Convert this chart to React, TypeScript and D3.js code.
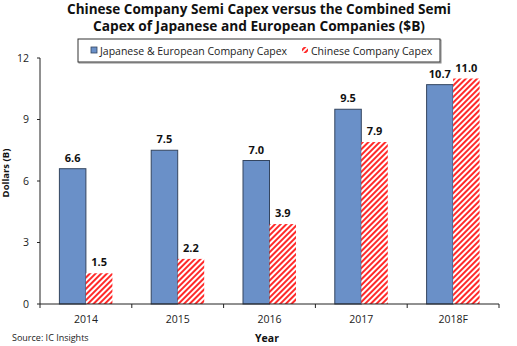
import React from "react";
import * as d3 from "d3";

const categories = ["2014", "2015", "2016", "2017", "2018F"];
const jeCapex = [6.6, 7.5, 7.0, 9.5, 10.7];
const cnCapex = [1.5, 2.2, 3.9, 7.9, 11.0];
const yTicks = [0, 3, 6, 9, 12];
const seriesNames = ["Japanese & European Company Capex", "Chinese Company Capex"];
const titleLines = [
  "Chinese Company Semi Capex versus the Combined Semi",
  "Capex of Japanese and European Companies ($B)",
];
const titleWidths = [384, 332];

const W = 517, H = 346;
const left = 40, right = 499, top = 58, bottom = 304;
const font = "'Open Sans', 'Liberation Sans', sans-serif";

export default function App() {
  const x = d3.scaleBand<string>().domain(categories).range([left, right]).paddingInner(0).paddingOuter(0);
  const y = d3.scaleLinear().domain([0, 12]).range([bottom, top]);
  const bw = 26.5;
  const blue = "#6a90c8";
  const blueStroke = "#34455f";
  const red = "#ff2a2a";

  return (
    <svg width={W} height={H} style={{ position: "absolute", left: 0, top: 0, background: "#fff" }} fontFamily={font}>
      <defs>
        <pattern id="hatch" patternUnits="userSpaceOnUse" width="4" height="4" patternTransform="rotate(45)">
          <rect width="4" height="4" fill="#fff" />
          <rect x="0" y="0" width="2" height="4" fill={red} />
        </pattern>
      </defs>
      <rect width={W} height={H} fill="#fff" />
      {titleLines.map((t, i) => (
        <text key={i} x={259} y={14 + i * 17} textAnchor="middle" fontSize={13.5} fontWeight="bold" fill="#111"
          textLength={titleWidths[i]} lengthAdjust="spacingAndGlyphs">
          {t}
        </text>
      ))}
      {/* legend */}
      <rect x={79} y={40} width={362} height={23} fill="#fff" stroke="#888" strokeWidth={1} />
      <rect x={78} y={39} width={362} height={23} fill="#fff" stroke="#333" strokeWidth={1} />
      <rect x={91} y={47} width={6} height={6} fill={blue} stroke={blueStroke} strokeWidth={0.8} />
      <text x={100} y={55} fontSize={10.5} fill="#222">{seriesNames[0]}</text>
      <rect x={302} y={47} width={6} height={6} fill="url(#hatch)" />
      <text x={311} y={55} fontSize={10.5} fill="#222">{seriesNames[1]}</text>

      {/* axes */}
      <line x1={left} x2={left} y1={top} y2={bottom} stroke="#222" />
      {yTicks.map((t) => (
        <g key={t}>
          <line x1={left - 3} x2={left} y1={y(t)} y2={y(t)} stroke="#222" />
          <text x={29} y={y(t) + 3.5} textAnchor="end" fontSize={10.5} fill="#222">{t}</text>
        </g>
      ))}
      {categories.map((c, i) => {
        const cx = (x(c) as number) + x.bandwidth() / 2;
        return (
          <g key={c}>
            <rect x={cx - bw} y={y(jeCapex[i])} width={bw} height={bottom - y(jeCapex[i])} fill={blue} stroke={blueStroke} strokeWidth={1} />
            <rect x={cx} y={y(cnCapex[i])} width={bw} height={bottom - y(cnCapex[i])} fill="url(#hatch)" />
            <text x={cx - bw / 2} y={y(jeCapex[i]) - 7} textAnchor="middle" fontSize={11} fontWeight="bold" fill="#111">
              {jeCapex[i].toFixed(1)}
            </text>
            <text x={cx + bw / 2} y={y(cnCapex[i]) - 7} textAnchor="middle" fontSize={11} fontWeight="bold" fill="#111">
              {cnCapex[i].toFixed(1)}
            </text>
            <text x={cx} y={323} textAnchor="middle" fontSize={10.5} fill="#222">{c}</text>
          </g>
        );
      })}
      <line x1={left} x2={right} y1={bottom} y2={bottom} stroke="#222" />
      {d3.range(categories.length + 1).map((i) => {
        const xx = left + i * x.bandwidth();
        return <line key={i} x1={xx} x2={xx} y1={bottom} y2={bottom + 4} stroke="#222" />;
      })}
      <text transform={`translate(9,173) rotate(-90)`} textAnchor="middle" fontSize={9.5} fontWeight="bold" fill="#111">
        Dollars (B)
      </text>
      <text x={267} y={342} textAnchor="middle" fontSize={10.5} fontWeight="bold" fill="#111">Year</text>
      <text x={12} y={341} fontSize={9} fill="#222">Source: IC Insights</text>
    </svg>
  );
}
